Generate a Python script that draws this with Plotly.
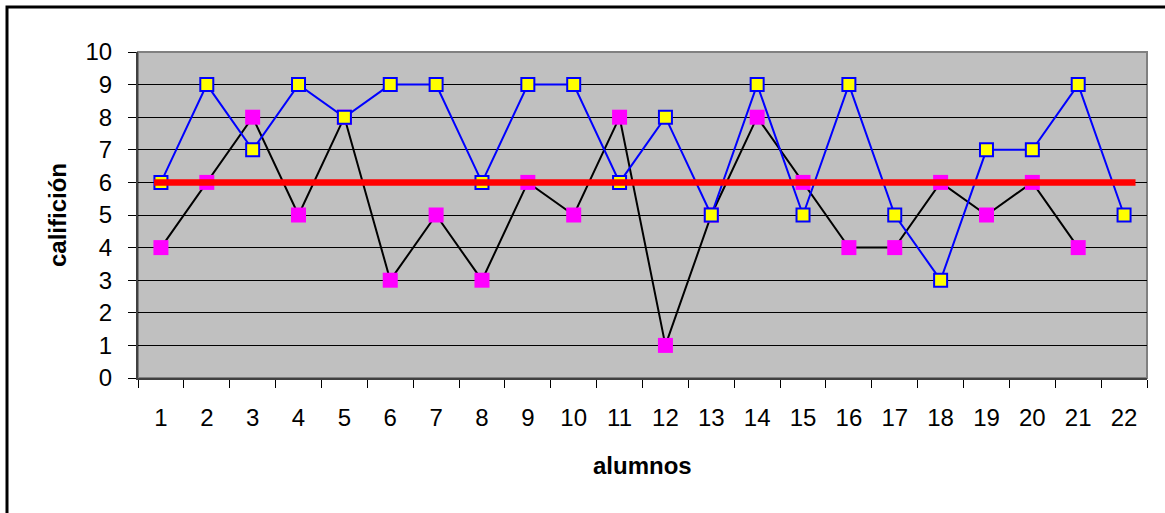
import plotly.graph_objects as go

alumnos = list(range(1, 23))
serie_azul = [6, 9, 7, 9, 8, 9, 9, 6, 9, 9, 6, 8, 5, 9, 5, 9, 5, 3, 7, 7, 9, 5]
serie_negra = [4, 6, 8, 5, 8, 3, 5, 3, 6, 5, 8, 1, 5, 8, 6, 4, 4, 6, 5, 6, 4]
nota_minima = 6
y_ticks = list(range(0, 11))

W, H = 1165, 513
L, R, T, B = 138, 18, 52, 135
pw, ph = W - L - R, H - T - B

FONT = "Arial, Liberation Sans, sans-serif"

fig = go.Figure()

fig.add_trace(go.Scatter(
    x=alumnos[:len(serie_negra)], y=serie_negra, mode="lines+markers",
    line=dict(color="black", width=2),
    marker=dict(symbol="square", size=15, color="#FF00FF", line=dict(width=0)),
    showlegend=False, cliponaxis=False))

fig.add_trace(go.Scatter(
    x=alumnos, y=serie_azul, mode="lines+markers",
    line=dict(color="#0000FF", width=2),
    marker=dict(symbol="square", size=13, color="#FFFF00", line=dict(color="#0000FF", width=2)),
    showlegend=False, cliponaxis=False))

fig.add_trace(go.Scatter(
    x=[alumnos[0] - 0.15, alumnos[-1] + 0.25], y=[nota_minima, nota_minima], mode="lines",
    line=dict(color="#FF0000", width=6.5),
    showlegend=False, hoverinfo="skip"))

fig.update_layout(
    width=W, height=H,
    margin=dict(l=L, r=R, t=T, b=B),
    paper_bgcolor="white", plot_bgcolor="#C0C0C0",
    font=dict(family=FONT, size=24, color="black"),
    showlegend=False,
)

fig.update_xaxes(
    range=[alumnos[0] - 0.5, alumnos[-1] + 0.5],
    tickmode="array", tickvals=alumnos, ticktext=[str(a) for a in alumnos],
    ticks="", ticklen=0, showgrid=False, zeroline=False,
    showline=True, linecolor="#404040", linewidth=2,
    ticklabelstandoff=17,
    tickfont=dict(family=FONT, size=24, color="black"),
    minor=dict(tickmode="array", tickvals=[a + 0.5 for a in [alumnos[0] - 1] + alumnos],
               ticks="outside", ticklen=8, tickcolor="black", tickwidth=1, showgrid=False),
)

fig.update_yaxes(
    range=[0, 10], tickmode="array", tickvals=y_ticks,
    ticks="outside", ticklen=8, tickcolor="black", tickwidth=1,
    showgrid=True, gridcolor="black", gridwidth=1, zeroline=False,
    showline=True, linecolor="#404040", linewidth=2,
    ticklabelstandoff=11,
    tickfont=dict(family=FONT, size=24, color="black"),
)

# plot area border
fig.add_shape(type="rect", xref="paper", yref="paper", x0=0, x1=1, y0=0, y1=1,
              line=dict(color="#808080", width=2), layer="below")

# outer chart border
fig.add_shape(type="rect", xref="paper", yref="paper",
              x0=(7 - L) / pw, x1=2, y0=-2, y1=(H - B - 7) / ph,
              line=dict(color="black", width=3))

fig.add_annotation(text="<b>califición</b>", xref="paper", yref="paper",
                   x=0, y=0.5, xshift=57 - L, textangle=-90,
                   xanchor="center", yanchor="middle", showarrow=False,
                   font=dict(family=FONT, size=24, color="black"))

fig.add_annotation(text="<b>alumnos</b>", xref="paper", yref="paper",
                   x=0.5, y=0, yshift=-(465 - (H - B)),
                   xanchor="center", yanchor="middle", showarrow=False,
                   font=dict(family=FONT, size=24, color="black"))

fig.write_html("out.html", config={"displayModeBar": False},
               post_script="document.body.style.margin='0';")
